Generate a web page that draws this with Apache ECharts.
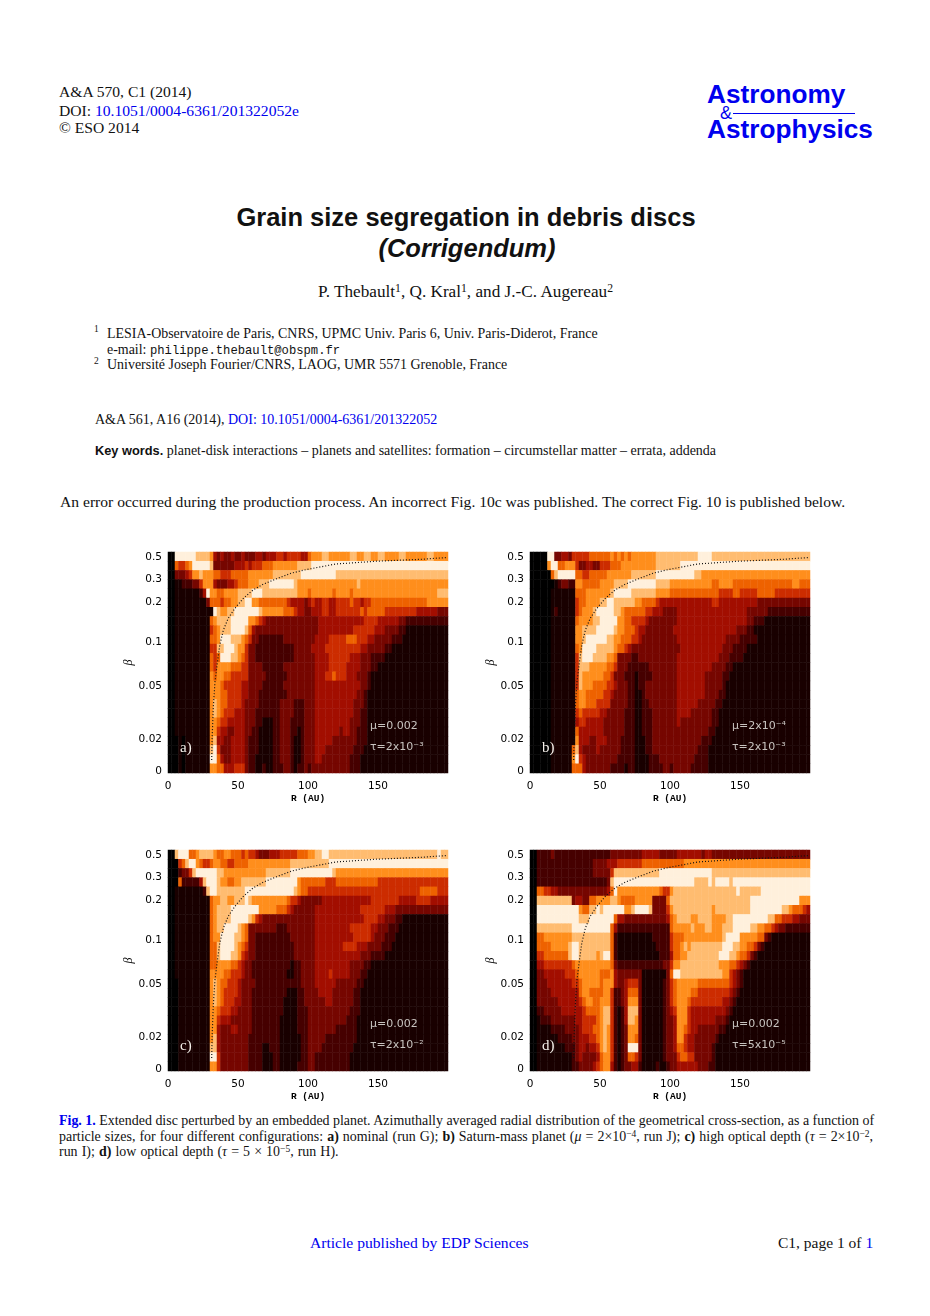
<!DOCTYPE html>
<html>
<head>
<meta charset="utf-8">
<title>Grain size segregation in debris discs (Corrigendum)</title>
<script src="https://cdn.jsdelivr.net/npm/echarts@6/dist/echarts.min.js"></script>
<style>
html, body { margin: 0; padding: 0; background: #fff; }
#page { position: relative; width: 930px; height: 1316px; overflow: hidden; color: #111; font-family: "Liberation Serif", serif; }
#page div { position: absolute; white-space: nowrap; line-height: 1; }
#chart { position: absolute; left: 0; top: 0; width: 930px; height: 1316px; filter: blur(0.45px); }
a, .blue { color: #0000ee; text-decoration: none; }
sup { font-size: 68%; line-height: 0; vertical-align: baseline; position: relative; top: -0.45em; }
.logo { font-family: "Liberation Sans", sans-serif; font-weight: bold; color: #0000ee; }
.sans { font-family: "Liberation Sans", sans-serif; }
</style>
</head>
<body>
<div id="page">
	<div style="left:59px;top:84px;font-size:15.6px">A&amp;A 570, C1 (2014)</div>
	<div style="left:59px;top:103px;font-size:15.6px">DOI: <span class="blue">10.1051/0004-6361/201322052e</span></div>
	<div style="left:59px;top:120px;font-size:15.6px">&copy; ESO 2014</div>

	<div class="logo" style="left:707px;top:81px;font-size:26.2px">Astronomy</div>
	<div class="sans" style="left:720px;top:104px;font-size:18px;color:#0000ee">&amp;</div>
	<div style="left:733px;top:113px;width:122px;height:1px;background:#0000ee"></div>
	<div class="logo" style="left:707px;top:116px;font-size:26.2px">Astrophysics</div>

	<div class="sans" style="left:0;width:932px;text-align:center;top:205px;font-size:25.5px;font-weight:bold">Grain size segregation in debris discs</div>
	<div class="sans" style="left:0;width:934px;text-align:center;top:236px;font-size:25.5px;font-weight:bold;font-style:italic">(Corrigendum)</div>

	<div style="left:318px;top:283px;font-size:17.2px">P. Thebault<sup>1</sup>, Q. Kral<sup>1</sup>, and J.-C. Augereau<sup>2</sup></div>

	<div style="left:94px;top:325px;font-size:9.5px">1</div>
	<div style="left:107px;top:327px;font-size:13.95px">LESIA-Observatoire de Paris, CNRS, UPMC Univ. Paris 6, Univ. Paris-Diderot, France</div>
	<div style="left:107px;top:343px;font-size:13.95px">e-mail: <span style="font-family:'Liberation Mono',monospace;font-size:12.2px">philippe.thebault@obspm.fr</span></div>
	<div style="left:94px;top:357px;font-size:9.5px">2</div>
	<div style="left:107px;top:358px;font-size:13.95px">Université Joseph Fourier/CNRS, LAOG, UMR 5571 Grenoble, France</div>

	<div style="left:95px;top:413px;font-size:14px">A&amp;A 561, A16 (2014), <span class="blue">DOI: 10.1051/0004-6361/201322052</span></div>
	<div style="left:95px;top:444px;font-size:14px"><b class="sans" style="font-size:12.8px">Key words.</b> planet-disk interactions &ndash; planets and satellites: formation &ndash; circumstellar matter &ndash; errata, addenda</div>
	<div style="left:60px;top:494px;font-size:15.6px">An error occurred during the production process. An incorrect Fig. 10c was published. The correct Fig. 10 is published below.</div>

	<div style="left:59px;top:1114px;font-size:13.95px"><b class="blue">Fig. 1.</b> Extended disc perturbed by an embedded planet. Azimuthally averaged radial distribution of the geometrical cross-section, as a function of</div>
	<div style="left:59px;top:1130px;font-size:13.95px;word-spacing:0.55px">particle sizes, for four different configurations: <b>a)</b> nominal (run G); <b>b)</b> Saturn-mass planet (<i>&mu;</i> = 2&times;10<sup>&minus;4</sup>, run J); <b>c)</b> high optical depth (<i>&tau;</i> = 2&times;10<sup>&minus;2</sup>,</div>
	<div style="left:59px;top:1145px;font-size:13.95px;word-spacing:0.6px">run I); <b>d)</b> low optical depth (<i>&tau;</i> = 5 &times; 10<sup>&minus;5</sup>, run H).</div>

	<div class="blue" style="left:310px;top:1235px;font-size:15.6px">Article published by EDP Sciences</div>
	<div style="left:778px;top:1235px;font-size:15.5px">C1, page 1 of <span class="blue">1</span></div>

	<div id="chart"></div>
</div>

<script>
// one string per beta row, top row first; each digit is one 2.5 AU column, level 0-9
var panelA = [
	"0099999988 8874343343 3433344344 4554555544 6777887777 7788778877 8877778877 7777887777",
	"0065567999 9983333334 4454555666 7777777888 8999999999 9999999999 9999999999 9999999999",
	"0033345778 7776655566 6667777777 8888888899 9999999988 8888888888 8888888888 8888888888",
	"0011222335 7774333445 6667778889 9999998777 7777777777 7777877777 7777777777 7777777777",
	"0011111112 4977667777 8888999888 8888888777 6777777677 7767777777 7777777777 7777777888",
	"0011111111 1366656677 8899776666 6666544443 4544554455 5565545566 6666666666 6666777777",
	"0011111111 1119877889 9999998777 7776665443 3444554455 5555565666 6655555555 5444444333",
	"0011111111 1167888899 9997765433 3333333333 3334444444 4444445555 4444443322 2222222222",
	"0011111111 1156788899 9986433333 3333333333 3334444444 4445555554 4433332211 1",
	"0011111111 1166799988 8765332222 2223333333 3344445555 5666555443 3333222111 1",
	"0011111111 1155889998 7753322222 2222223333 3444455555 5555544333 3322111111 1",
	"0011111111 1165699988 7653322222 2222223333 3344445555 5544433322 2211111111 1",
	"0011111111 1165777766 6553333222 2223333333 3344445555 5444433322 1",
	"0011111111 1176776655 5553333322 2222333333 3344455655 5444333211 1",
	"0011111111 1177765555 5443333222 2223333333 3344444444 4444433211 1",
	"0011111111 1177766555 5443332222 2222333333 3344444444 4444332111 1",
	"0011111111 1178766555 5433332222 2233332223 3344444444 4443332111 1",
	"0011111111 1178765554 4433322222 2233332223 3344444444 4443322111 1",
	"0011111111 1177655444 4433322111 2233322223 3344444444 4433322111 1",
	"0011111111 1177544334 4433221111 2233322123 3344444443 4433222111 1",
	"0001011111 1178443344 4432221111 2233321123 3344444333 3333222111 1",
	"0001011111 1189533344 4432221111 2233321123 3344433333 3332221111 1",
	"0001011111 1199643344 4432211111 2233321123 3344333333 3322211111 1",
	"0001011111 1177664445 5532211211 2223321223 2333333333 3322211111 1"
];
var panelB = [
	"0000099334 4355555666 6667676767 7777778888 8888888899 9988888888 8888888888 8888888888",
	"0000079966 7775334433 5556667777 7777778888 8889999999 9999999999 9999999999 9999999999",
	"0000006899 9996655666 6677777778 8888889999 9999999887 7777777777 7777777777 7777777777",
	"0000000123 3227766666 7777888899 9999998888 7777777777 7766777766 6666666666 6666677666",
	"0000001111 1116667777 7778999998 8888887777 6666666666 6666555566 5555566666 5555555555",
	"0000001111 1115667777 8899888888 7766665444 4444444444 4455444444 4444433333 3333333333",
	"0000001211 1115677789 9999887666 6665544433 3344444444 4444444444 4433333322 2222222222",
	"0000001111 1116777788 9999977665 5554333333 3344444444 4444444444 4433222111 1",
	"0000001111 1117788889 9999877666 5443333333 3444444444 4444444443 3322111111 1",
	"0000001111 1117789999 9988776665 5433333333 3344444444 4444443333 2222211111 1",
	"0000001111 1116799998 8888766543 3333333333 3334444444 4444433322 2211111111 1",
	"0000001111 1115899988 8877633332 2333333333 3344444444 4444333222 2111111111 1",
	"0000001111 1115888777 7766533322 2222333333 3344444444 4433332211 1",
	"0000001111 1115877777 7665333222 1222233333 3344444444 3333322111 1",
	"0000001111 1115877766 6655433322 1223333333 3344444444 3333321111 1",
	"0000001111 1116776666 6554333322 1123333333 3344444444 3333221111 1",
	"0000001111 1116776665 5553333322 1122333333 3344444433 3332211111 1",
	"0000001111 1115655555 4433333222 1122233333 3344443333 3322111111 1",
	"0000001111 1114554444 4333333222 1122233333 3343333333 3322111111 1",
	"0000001111 1116444444 4333333222 1122233333 3333333333 3221111111 1",
	"0000001111 1117444334 4433332222 1112233333 3333333332 2211111111 1",
	"0000001111 1168433334 3333332222 1112233333 3333333322 2111111111 1",
	"0000001111 1179543333 3333322222 1111222333 3333333222 2111111111 1",
	"0000001111 1166643333 3332222122 1111222233 2333332222 2111111111 1"
];
var panelC = [
	"0089996678 8887667766 6565543334 4455555666 7788998888 8888888888 8888888888 8888888988",
	"0005689976 5567766556 6667777777 7777788888 8888889999 9999999999 9999999999 9999999999",
	"0002335899 9999887777 7777777788 8888899999 9999999877 7777777777 7777777777 7777777777",
	"0006222224 8999877667 7888888899 9999999766 6666655566 6666666666 5555555555 5555555555",
	"0011111111 2899888888 8899999999 9999998766 5555555555 5555555555 5555555555 5566666555",
	"0011111111 1167788778 8898777777 7777655433 3333444444 4444444455 5555554444 4555544444",
	"0011111111 1167888899 9999997777 7666543333 3344444444 4444455555 5544433333 3333333333",
	"0011111111 1167888899 9998754333 3333333333 3344444444 4444445555 4433322111 1",
	"0011111111 1167889999 8763333333 3222333333 3344444444 4455555544 3332221111 1",
	"0011111111 1167799998 8763322222 2222233333 3344444444 4445555543 3322211111 1",
	"0011111111 1166899998 7653322222 2222223333 3344444444 5555444333 3222111111 1",
	"0011111111 1166899988 7543322222 2222223333 3344444444 4444433322 2211111111 1",
	"0011111111 1166777766 5433222222 2222212233 3344444444 4433332211 1",
	"0011111111 1177776655 5433222222 2222112233 3344445444 4433322111 1",
	"0001111111 1178766555 4333322222 2222222233 3344444433 3333221111 1",
	"0001111111 1178765555 4333222222 2222111223 3334444333 3332211111 1",
	"0001111111 1178765554 4333222222 2221111223 3333344333 3332211111 1",
	"0001111111 1177655544 3333222222 2221111222 3333333333 3322211111 1",
	"0001111111 1177544433 3333222222 2211111222 3333333333 3222111111 1",
	"0001111111 1177433344 3333222222 2211111222 3333333322 2222111111 1",
	"0001111111 1178433333 3332222222 2211111122 3333322222 2222111111 1",
	"0001111111 1188433333 3332222112 2211111122 3333222222 2221111111 1",
	"0001111111 1199533333 3332222111 2211111122 3322222222 2211111111 1",
	"0001111111 1177533333 3332222111 2211111222 3322222222 2211111111 1"
];
var panelD = [
	"0022223222 2222222222 2223333333 3344444333 3344444443 4433333333 3333333333 3333333333",
	"0022222222 2222222233 3344455555 5566666666 6666777777 7777777777 7777777777 7777777777",
	"0022222222 2222222233 3335888888 8888888999 9999999999 9988888888 8888888888 8888888888",
	"0022222222 2222222222 2238999999 9999999999 9999999888 8989999899 9999999999 9999999999",
	"0066554433 3333333333 3346977777 7777777655 7888888888 8888888889 8888889999 9999999999",
	"0088888888 8834433667 7778876666 7777733336 8888888888 8888888888 8889999999 9999999777",
	"0099999999 9999766889 8999999778 9999833335 7888888888 8878888888 8889999999 9988766654",
	"0099999999 9999888999 9999644333 3333333334 6788887788 8877778899 9999999988 6655544333",
	"0088888888 8899999999 9996422222 2222222222 6777778777 8877788899 9998877665 4332222222",
	"0066777777 7788888888 8886211111 1111122222 5666777777 7777789999 7777766321 1",
	"0066667777 7899888888 8886211111 1111112222 5667878888 8888899988 7766532111 1",
	"0055666666 6899888887 8996211111 1111111222 4667788888 8888999887 6653211111 1",
	"0044555555 5567777777 7776322222 2222222233 5778888888 8888777665 4321111111 1",
	"0033444444 5556777777 6667433333 3311111113 6998888888 8888877543 2111111111 1",
	"0033344444 4455677777 6777433455 5311111123 5677777766 6666666543 2111111111 1",
	"0033334444 4444677666 6775223466 6311111123 5677776655 5555555432 1",
	"0033333344 4444567766 7775223477 7311111123 5677765555 5555544321 1",
	"0022333334 4444456666 7885212488 8311111123 4577754444 4444443211 1",
	"0012223333 3334455556 7885212488 7311111123 3477754444 4443332111 1",
	"0011112222 3333455566 7875212377 7311111123 3477654433 3333221111 1",
	"0011111122 2233444556 7875212377 6311111123 3477544333 3332111111 1",
	"0011111111 2223443445 7875212399 9311111123 3466544333 3321111111 1",
	"0011111111 1123433334 6775212366 5311111123 3356655333 3321111111 1",
	"0011111111 1122333345 6774212334 4211112112 3344444433 3221111111 1"
];

var heatColors = ["#000000", "#190000", "#460000", "#760600", "#a20e00", "#cc2c00", "#ee6200", "#ff8e1c", "#ffbc70", "#fff0dc"];

var radiusLabels = ["0", "50", "100", "150"];
var betaLabels = ["0", "0.02", "0.05", "0.1", "0.2", "0.3", "0.5"];
var betaRows = [0.2, 3.7, 9.45, 14.25, 18.55, 21, 23.4];

// dotted curve: R in AU, height in rows from the bottom
var curveR = [31.2, 31.6, 32.4, 33.5, 35.2, 37, 39.5, 43, 47.9, 54, 61, 68, 77.6, 88, 99, 120, 149, 180, 199];
var curveRow = [1.4, 4, 7.2, 9.8, 11.9, 13.9, 15.5, 16.8, 17.9, 19, 19.9, 20.5, 21.1, 21.7, 22.1, 22.7, 23, 23.2, 23.4];

var panels = [
	{ rows: panelA, left: 168, top: 552, name: "a)", mu: "μ=0.002", tau: "τ=2x10⁻³" },
	{ rows: panelB, left: 530, top: 552, name: "b)", mu: "μ=2x10⁻⁴", tau: "τ=2x10⁻³" },
	{ rows: panelC, left: 168, top: 850, name: "c)", mu: "μ=0.002", tau: "τ=2x10⁻²" },
	{ rows: panelD, left: 530, top: 850, name: "d)", mu: "μ=0.002", tau: "τ=5x10⁻⁵" }
];

var NCOL = 80, NROW = 24;

function heatData(rows) {
	var out = [];
	for (var i = 0; i < rows.length; i++) {
		var s = rows[i].replace(/ /g, "");
		s = s.padEnd(NCOL, s.charAt(s.length - 1));
		for (var c = 0; c < NCOL; c++) {
			out.push([c, NROW - 1 - i, parseInt(s.charAt(c))]);
		}
	}
	return out;
}

var indexList = function (n) {
	var a = [];
	for (var i = 0; i < n; i++) a.push(i);
	return a;
};

var option = {
	animation: false,
	backgroundColor: "transparent",
	grid: [],
	xAxis: [],
	yAxis: [],
	series: [],
	graphic: [],
	visualMap: {
		show: false,
		type: "continuous",
		min: 0,
		max: 9,
		seriesIndex: [0, 2, 4, 6],
		inRange: { color: heatColors }
	}
};

var tickFont = { fontFamily: "DejaVu Sans", fontSize: 10.5, color: "#000" };

panels.forEach(function (p, k) {
	option.grid.push({ left: p.left, top: p.top, width: 280, height: 221, show: false });

	// category axes carry the cells, value axes carry the ticks and the curve
	option.xAxis.push({ type: "category", gridIndex: k, data: indexList(NCOL), show: false });
	option.xAxis.push({
		type: "value", gridIndex: k, min: 0, max: 200, interval: 50, position: "bottom",
		name: "R (AU)", nameLocation: "middle", nameGap: 21,
		nameTextStyle: { fontFamily: "Liberation Mono", fontWeight: "bold", fontSize: 9.5, color: "#000" },
		axisLine: { show: false },
		splitLine: { show: false },
		axisTick: { show: true, inside: true, length: 3, lineStyle: { color: "#999" } },
		axisLabel: Object.assign({ margin: 8, showMaxLabel: false, formatter: function (v) { return radiusLabels[v / 50]; } }, tickFont)
	});
	option.yAxis.push({ type: "category", gridIndex: k, data: indexList(NROW), show: false });
	option.yAxis.push({
		type: "value", gridIndex: k, min: 0, max: NROW, position: "left",
		name: "β", nameLocation: "middle", nameGap: 33, nameRotate: 90,
		nameTextStyle: { fontFamily: "Liberation Serif", fontStyle: "italic", fontSize: 12, color: "#000" },
		axisLine: { show: false },
		splitLine: { show: false },
		axisTick: { show: true, inside: true, length: 3, customValues: betaRows, lineStyle: { color: "#999" } },
		axisLabel: Object.assign({
			margin: 6, customValues: betaRows, showMinLabel: true, showMaxLabel: true,
			formatter: function (v) { return betaLabels[betaRows.indexOf(v)]; }
		}, tickFont)
	});

	option.series.push({
		type: "heatmap", xAxisIndex: k * 2, yAxisIndex: k * 2,
		data: heatData(p.rows), silent: true, progressive: 0, emphasis: { disabled: true }
	});
	option.series.push({
		type: "line", xAxisIndex: k * 2 + 1, yAxisIndex: k * 2 + 1, silent: true, z: 5,
		data: curveR.map(function (r, i) { return [r, curveRow[i]]; }),
		showSymbol: false, symbol: "none",
		lineStyle: { color: "#111", width: 1.2, type: [1, 2] }
	});

	option.graphic.push({
		type: "text", left: p.left + 12, top: p.top + 189, z: 10, silent: true,
		style: { text: p.name, fill: "#f5f0ea", font: "15px 'Liberation Serif'" }
	});
	option.graphic.push({
		type: "text", left: p.left + 202, top: p.top + 169, z: 10, silent: true,
		style: { text: p.mu, fill: "#c8c3bf", font: "11px 'DejaVu Sans'" }
	});
	option.graphic.push({
		type: "text", left: p.left + 202, top: p.top + 190, z: 10, silent: true,
		style: { text: p.tau, fill: "#c8c3bf", font: "11px 'DejaVu Sans'" }
	});
});

var myChart = echarts.init(document.getElementById("chart"), null, { renderer: "canvas" });
myChart.setOption(option);
</script>
</body>
</html>
